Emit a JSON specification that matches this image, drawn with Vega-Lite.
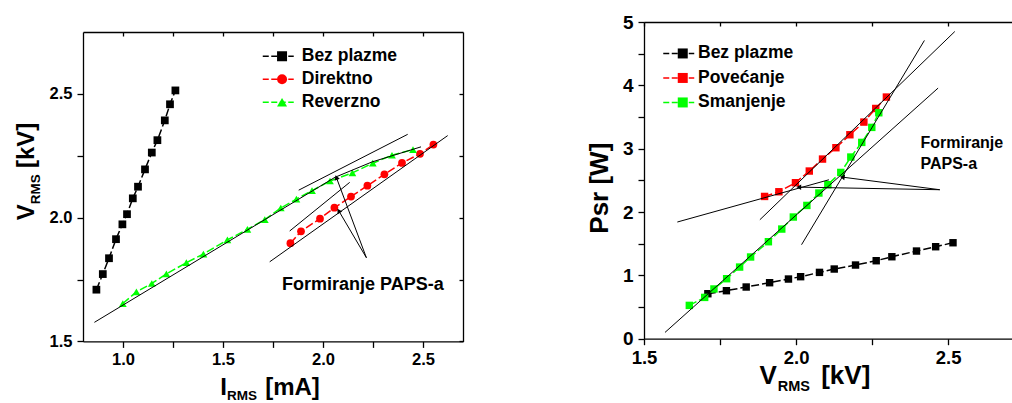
{
  "$schema": "https://vega.github.io/schema/vega-lite/v6.json",
  "background": "white",
  "padding": {"left": 14, "top": 13, "right": 0, "bottom": 0},
  "spacing": 122,
  "config": {
    "view": {"stroke": null},
    "font": "Liberation Sans",
    "axis": {"domainColor": "#000", "domainWidth": 1.3, "tickColor": "#000", "tickWidth": 1.3, "labelColor": "#000", "labelFont": "Liberation Sans", "labelFontWeight": "bold", "titleFont": "Liberation Sans", "titleFontWeight": "bold", "titleColor": "#000", "grid": false, "labelFlush": false, "labelOverlap": false},
    "legend": {"labelFont": "Liberation Sans", "labelFontWeight": "bold", "labelColor": "#000", "padding": 0},
    "title": {"font": "Liberation Sans"}
  },
  "resolve": {"scale": {"stroke": "independent", "fill": "independent", "shape": "independent"}, "legend": {"stroke": "independent", "fill": "independent", "shape": "independent"}},
  "datasets": {
    "ls": [
      {"series": "Bez plazme", "I": 0.867, "V": 1.709}, {"series": "Bez plazme", "I": 0.899, "V": 1.772}, {"series": "Bez plazme", "I": 0.930, "V": 1.836}, {"series": "Bez plazme", "I": 0.965, "V": 1.913}, {"series": "Bez plazme", "I": 0.997, "V": 1.973}, {"series": "Bez plazme", "I": 1.020, "V": 2.014}, {"series": "Bez plazme", "I": 1.049, "V": 2.078}, {"series": "Bez plazme", "I": 1.075, "V": 2.125}, {"series": "Bez plazme", "I": 1.110, "V": 2.195}, {"series": "Bez plazme", "I": 1.144, "V": 2.263}, {"series": "Bez plazme", "I": 1.172, "V": 2.313}, {"series": "Bez plazme", "I": 1.209, "V": 2.393}, {"series": "Bez plazme", "I": 1.235, "V": 2.458}, {"series": "Bez plazme", "I": 1.262, "V": 2.514},
      {"series": "Direktno", "I": 1.837, "V": 1.897}, {"series": "Direktno", "I": 1.890, "V": 1.945}, {"series": "Direktno", "I": 1.985, "V": 1.996}, {"series": "Direktno", "I": 2.057, "V": 2.040}, {"series": "Direktno", "I": 2.140, "V": 2.085}, {"series": "Direktno", "I": 2.222, "V": 2.129}, {"series": "Direktno", "I": 2.307, "V": 2.175}, {"series": "Direktno", "I": 2.395, "V": 2.221}, {"series": "Direktno", "I": 2.485, "V": 2.258}, {"series": "Direktno", "I": 2.552, "V": 2.295},
      {"series": "Reverzno", "I": 0.999, "V": 1.653}, {"series": "Reverzno", "I": 1.067, "V": 1.700}, {"series": "Reverzno", "I": 1.144, "V": 1.734}, {"series": "Reverzno", "I": 1.217, "V": 1.773}, {"series": "Reverzno", "I": 1.317, "V": 1.818}, {"series": "Reverzno", "I": 1.402, "V": 1.853}, {"series": "Reverzno", "I": 1.522, "V": 1.910}, {"series": "Reverzno", "I": 1.622, "V": 1.953}, {"series": "Reverzno", "I": 1.709, "V": 1.992}, {"series": "Reverzno", "I": 1.789, "V": 2.039}, {"series": "Reverzno", "I": 1.867, "V": 2.075}, {"series": "Reverzno", "I": 1.945, "V": 2.109}, {"series": "Reverzno", "I": 2.035, "V": 2.148}, {"series": "Reverzno", "I": 2.147, "V": 2.181}, {"series": "Reverzno", "I": 2.249, "V": 2.220}, {"series": "Reverzno", "I": 2.345, "V": 2.252}, {"series": "Reverzno", "I": 2.450, "V": 2.275}
    ],
    "lf": [
      {"x1": 0.857, "y1": 1.577, "x2": 2.06, "y2": 2.163},
      {"x1": 2.06, "y1": 2.163, "x2": 2.245, "y2": 2.225},
      {"x1": 2.245, "y1": 2.225, "x2": 2.49, "y2": 2.286},
      {"x1": 1.8785, "y1": 2.111, "x2": 2.4235, "y2": 2.3366},
      {"x1": 1.7335, "y1": 1.8215, "x2": 2.6235, "y2": 2.3315},
      {"x1": 1.8335, "y1": 1.946, "x2": 2.1335, "y2": 2.1425}
    ],
    "la": [
      {"id": 1, "x": 2.217, "y": 1.838, "hx": 2.067, "hy": 2.162},
      {"id": 2, "x": 2.217, "y": 1.838, "hx": 2.0785, "hy": 2.028}
    ],
    "lt": [{"text": "Formiranje PAPS-a", "x": 1.795, "y": 1.726}],
    "rs": [
      {"series": "Bez plazme", "V": 1.710, "P": 0.710}, {"series": "Bez plazme", "V": 1.771, "P": 0.758}, {"series": "Bez plazme", "V": 1.836, "P": 0.816}, {"series": "Bez plazme", "V": 1.913, "P": 0.884}, {"series": "Bez plazme", "V": 1.975, "P": 0.942}, {"series": "Bez plazme", "V": 2.015, "P": 0.979}, {"series": "Bez plazme", "V": 2.077, "P": 1.047}, {"series": "Bez plazme", "V": 2.1255, "P": 1.100}, {"series": "Bez plazme", "V": 2.1955, "P": 1.163}, {"series": "Bez plazme", "V": 2.2635, "P": 1.231}, {"series": "Bez plazme", "V": 2.315, "P": 1.294}, {"series": "Bez plazme", "V": 2.396, "P": 1.384}, {"series": "Bez plazme", "V": 2.459, "P": 1.452}, {"series": "Bez plazme", "V": 2.516, "P": 1.515},
      {"series": "Povećanje", "V": 1.8965, "P": 2.246}, {"series": "Povećanje", "V": 1.9435, "P": 2.320}, {"series": "Povećanje", "V": 1.998, "P": 2.463}, {"series": "Povećanje", "V": 2.0435, "P": 2.647}, {"series": "Povećanje", "V": 2.087, "P": 2.836}, {"series": "Povećanje", "V": 2.131, "P": 3.015}, {"series": "Povećanje", "V": 2.177, "P": 3.220}, {"series": "Povećanje", "V": 2.223, "P": 3.420}, {"series": "Povećanje", "V": 2.262, "P": 3.635}, {"series": "Povećanje", "V": 2.297, "P": 3.815},
      {"series": "Smanjenje", "V": 1.649, "P": 0.526}, {"series": "Smanjenje", "V": 1.6995, "P": 0.652}, {"series": "Smanjenje", "V": 1.73, "P": 0.785}, {"series": "Smanjenje", "V": 1.7717, "P": 0.947}, {"series": "Smanjenje", "V": 1.8144, "P": 1.131}, {"series": "Smanjenje", "V": 1.8505, "P": 1.290}, {"series": "Smanjenje", "V": 1.909, "P": 1.531}, {"series": "Smanjenje", "V": 1.953, "P": 1.731}, {"series": "Smanjenje", "V": 1.991, "P": 1.921}, {"series": "Smanjenje", "V": 2.0355, "P": 2.104}, {"series": "Smanjenje", "V": 2.075, "P": 2.300}, {"series": "Smanjenje", "V": 2.1045, "P": 2.431}, {"series": "Smanjenje", "V": 2.147, "P": 2.625}, {"series": "Smanjenje", "V": 2.18, "P": 2.868}, {"series": "Smanjenje", "V": 2.216, "P": 3.099}, {"series": "Smanjenje", "V": 2.249, "P": 3.336}, {"series": "Smanjenje", "V": 2.272, "P": 3.567}
    ],
    "rf": [
      {"x1": 1.6096, "y1": 1.842, "x2": 2.108, "y2": 2.509},
      {"x1": 1.881, "y1": 1.878, "x2": 2.522, "y2": 4.85},
      {"x1": 2.018, "y1": 1.484, "x2": 2.422, "y2": 4.709},
      {"x1": 1.569, "y1": 0.099, "x2": 2.467, "y2": 3.957}
    ],
    "ra": [
      {"id": 1, "x": 2.4725, "y": 2.352, "hx": 2.009, "hy": 2.393},
      {"id": 2, "x": 2.4725, "y": 2.352, "hx": 2.152, "hy": 2.551}
    ],
    "rt": [{"text": "Formiranje", "x": 2.409, "y": 3.089}, {"text": "PAPS-a", "x": 2.409, "y": 2.758}]
  },
  "hconcat": [
    {
      "width": 380,
      "height": 319.4,
      "resolve": {"axis": {"x": "independent", "y": "independent"}},
      "layer": [
        {
          "data": {"name": "ls"},
          "transform": [{"calculate": "datum.series", "as": "grp"}],
          "mark": {"type": "line", "strokeWidth": 1.5, "strokeDash": [8, 3]},
          "encoding": {
            "x": {"field": "I", "type": "quantitative", "scale": {"domain": [0.8, 2.7], "nice": false, "zero": false},
              "axis": {"orient": "bottom", "values": [1, 1.25, 1.5, 1.75, 2, 2.25, 2.5], "format": ".1f", "labelExpr": "abs(datum.value*2-round(datum.value*2))<0.01 ? datum.label : ''", "tickSize": 6, "labelPadding": 4, "labelFontSize": 16.5, "title": "I", "titleFontSize": 24, "titleX": 136.7, "titleY": 53, "titleAlign": "left", "titleBaseline": "alphabetic"}},
            "y": {"field": "V", "type": "quantitative", "scale": {"domain": [1.5, 2.75], "nice": false, "zero": false, "range": [319.4, 10]},
              "axis": {"orient": "left", "values": [1.5, 1.75, 2, 2.25, 2.5], "format": ".1f", "labelExpr": "abs(datum.value*2-round(datum.value*2))<0.01 ? datum.label : ''", "tickSize": 6, "labelPadding": 5, "labelFontSize": 16.5, "title": "V", "titleFontSize": 24, "titleAngle": -90, "titleX": -50, "titleY": 197.7, "titleAlign": "left", "titleBaseline": "alphabetic"}},
            "stroke": {"field": "grp", "type": "nominal", "scale": {"range": ["#000000", "#ff0000", "#00ff00"]},
              "legend": {"orient": "none", "legendX": 186.5, "legendY": 25.5, "title": null, "symbolType": "M-2,0H2", "symbolSize": 240, "symbolStrokeWidth": 1.5, "symbolDash": [6, 2.5], "labelFontSize": 17.5, "rowPadding": 4, "labelOffset": 14.75}}
          }
        },
        {
          "data": {"name": "ls"},
          "mark": {"type": "point", "filled": true, "size": 60, "opacity": 1},
          "encoding": {
            "x": {"field": "I", "type": "quantitative", "axis": null},
            "y": {"field": "V", "type": "quantitative", "axis": null},
            "fill": {"field": "series", "type": "nominal", "scale": {"range": ["#000000", "#ff0000", "#00ff00"]},
              "legend": {"orient": "none", "legendX": 190.3, "legendY": 25.5, "title": null, "labelFontSize": 17.5, "rowPadding": 4, "labelExpr": "' '"}},
            "shape": {"field": "series", "type": "nominal", "scale": {"range": ["square", "circle", "triangle-up"]},
              "legend": {"orient": "none", "legendX": 190.3, "legendY": 25.5, "title": null, "labelFontSize": 17.5, "rowPadding": 4, "labelExpr": "' '"}}
          }
        },
        {
          "data": {"name": "lf"},
          "mark": {"type": "rule", "color": "#000", "strokeWidth": 1},
          "encoding": {
            "x": {"field": "x1", "type": "quantitative", "axis": {"orient": "top", "offset": -10, "values": [1, 1.25, 1.5, 1.75, 2, 2.25, 2.5], "labels": false, "tickSize": -4, "title": null}},
            "y": {"field": "y1", "type": "quantitative", "axis": {"orient": "right", "values": [1.5, 1.75, 2, 2.25, 2.5], "labels": false, "tickSize": -4, "title": null}},
            "x2": {"field": "x2"},
            "y2": {"field": "y2"}
          }
        },
        {
          "data": {"name": "la"},
          "mark": {"type": "rule", "color": "#000", "strokeWidth": 1},
          "encoding": {
            "x": {"field": "x", "type": "quantitative", "axis": {"orient": "bottom", "domain": false, "ticks": false, "labels": false, "title": "RMS", "titleFontSize": 13.5, "titleX": 143.4, "titleY": 58, "titleAlign": "left", "titleBaseline": "alphabetic"}},
            "y": {"field": "y", "type": "quantitative", "axis": {"orient": "left", "domain": false, "ticks": false, "labels": false, "title": "RMS", "titleFontSize": 13.5, "titleAngle": -90, "titleX": -44, "titleY": 181.7, "titleAlign": "left", "titleBaseline": "alphabetic"}},
            "x2": {"field": "hx"},
            "y2": {"field": "hy"}
          }
        },
        {
          "data": {"name": "la"},
          "transform": [{"filter": "datum.id == 1"}],
          "mark": {"type": "point", "shape": "triangle-up", "filled": true, "color": "#000", "size": 30, "opacity": 1, "angle": 339.7},
          "encoding": {
            "x": {"field": "hx", "type": "quantitative", "axis": {"orient": "bottom", "domain": false, "ticks": false, "labels": false, "title": "[mA]", "titleFontSize": 24, "titleX": 181.7, "titleY": 53, "titleAlign": "left", "titleBaseline": "alphabetic"}},
            "y": {"field": "hy", "type": "quantitative", "axis": {"orient": "left", "domain": false, "ticks": false, "labels": false, "title": "[kV]", "titleFontSize": 24, "titleAngle": -90, "titleX": -50, "titleY": 145.5, "titleAlign": "left", "titleBaseline": "alphabetic"}}
          }
        },
        {
          "data": {"name": "la"},
          "transform": [{"filter": "datum.id == 2"}],
          "mark": {"type": "point", "shape": "triangle-up", "filled": true, "color": "#000", "size": 30, "opacity": 1, "angle": 329.8},
          "encoding": {
            "x": {"field": "hx", "type": "quantitative", "axis": null},
            "y": {"field": "hy", "type": "quantitative", "axis": null}
          }
        },
        {
          "data": {"name": "lt"},
          "mark": {"type": "text", "align": "left", "baseline": "middle", "font": "Liberation Sans", "fontWeight": "bold", "fontSize": 18, "color": "#000"},
          "encoding": {
            "x": {"field": "x", "type": "quantitative", "axis": null},
            "y": {"field": "y", "type": "quantitative", "axis": null},
            "text": {"field": "text"}
          }
        }
      ]
    },
    {
      "width": 368,
      "height": 316.7,
      "resolve": {"axis": {"x": "independent", "y": "independent"}},
      "layer": [
        {
          "data": {"name": "rs"},
          "transform": [{"calculate": "datum.series", "as": "grp"}],
          "mark": {"type": "line", "strokeWidth": 1.5, "strokeDash": [8, 3]},
          "encoding": {
            "x": {"field": "V", "type": "quantitative", "scale": {"domain": [1.5, 2.71], "nice": false, "zero": false},
              "axis": {"orient": "bottom", "values": [1.5, 1.75, 2, 2.25, 2.5], "format": ".1f", "labelExpr": "abs(datum.value*2-round(datum.value*2))<0.01 ? datum.label : ''", "tickSize": 6, "labelPadding": 4, "labelFontSize": 18.5, "title": "V", "titleFontSize": 26, "titleX": 115, "titleY": 44.3, "titleAlign": "left", "titleBaseline": "alphabetic"}},
            "y": {"field": "P", "type": "quantitative", "scale": {"domain": [0, 5], "nice": false, "zero": false},
              "axis": {"orient": "left", "values": [0, 0.5, 1, 1.5, 2, 2.5, 3, 3.5, 4, 4.5, 5], "labelExpr": "abs(datum.value-round(datum.value))<0.01 ? format(datum.value, 'd') : ''", "tickSize": 6, "labelPadding": 5, "labelFontSize": 19, "title": "Psr [W]", "titleFontSize": 26, "titleAngle": -90, "titleX": -36.6, "titleY": 165.7, "titleAlign": "center", "titleBaseline": "alphabetic"}},
            "stroke": {"field": "grp", "type": "nominal", "scale": {"range": ["#000000", "#ff0000", "#00ff00"]},
              "legend": {"orient": "none", "legendX": 26, "legendY": 22.7, "title": null, "symbolType": "M-2,0H2", "symbolSize": 240, "symbolStrokeWidth": 1.5, "symbolDash": [6, 2.5], "labelFontSize": 17.5, "rowPadding": 5.5, "labelOffset": 10.5}}
          }
        },
        {
          "data": {"name": "rs"},
          "mark": {"type": "point", "filled": true, "size": 55, "opacity": 1, "shape": "square"},
          "encoding": {
            "x": {"field": "V", "type": "quantitative", "axis": null},
            "y": {"field": "P", "type": "quantitative", "axis": null},
            "fill": {"field": "series", "type": "nominal", "scale": {"range": ["#000000", "#ff0000", "#00ff00"]},
              "legend": {"orient": "none", "legendX": 30, "legendY": 22.7, "title": null, "labelFontSize": 17.5, "rowPadding": 5.5, "labelExpr": "' '", "symbolType": "square"}}
          }
        },
        {
          "data": {"name": "rf"},
          "mark": {"type": "rule", "color": "#000", "strokeWidth": 1},
          "encoding": {
            "x": {"field": "x1", "type": "quantitative", "axis": {"orient": "top", "values": [1.5, 1.75, 2, 2.25, 2.5], "labels": false, "tickSize": -4, "title": null}},
            "y": {"field": "y1", "type": "quantitative", "axis": null},
            "x2": {"field": "x2"},
            "y2": {"field": "y2"}
          }
        },
        {
          "data": {"name": "ra"},
          "mark": {"type": "rule", "color": "#000", "strokeWidth": 1},
          "encoding": {
            "x": {"field": "x", "type": "quantitative", "axis": {"orient": "bottom", "domain": false, "ticks": false, "labels": false, "title": "RMS", "titleFontSize": 14.5, "titleX": 133.3, "titleY": 51.5, "titleAlign": "left", "titleBaseline": "alphabetic"}},
            "y": {"field": "y", "type": "quantitative", "axis": null},
            "x2": {"field": "hx"},
            "y2": {"field": "hy"}
          }
        },
        {
          "data": {"name": "ra"},
          "transform": [{"filter": "datum.id == 1"}],
          "mark": {"type": "point", "shape": "triangle-up", "filled": true, "color": "#000", "size": 30, "opacity": 1, "angle": 271},
          "encoding": {
            "x": {"field": "hx", "type": "quantitative", "axis": {"orient": "bottom", "domain": false, "ticks": false, "labels": false, "title": "[kV]", "titleFontSize": 26, "titleX": 176.7, "titleY": 44.3, "titleAlign": "left", "titleBaseline": "alphabetic"}},
            "y": {"field": "hy", "type": "quantitative", "axis": null}
          }
        },
        {
          "data": {"name": "ra"},
          "transform": [{"filter": "datum.id == 2"}],
          "mark": {"type": "point", "shape": "triangle-up", "filled": true, "color": "#000", "size": 30, "opacity": 1, "angle": 277.7},
          "encoding": {
            "x": {"field": "hx", "type": "quantitative", "axis": null},
            "y": {"field": "hy", "type": "quantitative", "axis": null}
          }
        },
        {
          "data": {"name": "rt"},
          "mark": {"type": "text", "align": "left", "baseline": "middle", "font": "Liberation Sans", "fontWeight": "bold", "fontSize": 16, "color": "#000"},
          "encoding": {
            "x": {"field": "x", "type": "quantitative", "axis": null},
            "y": {"field": "y", "type": "quantitative", "axis": null},
            "text": {"field": "text"}
          }
        }
      ]
    }
  ]
}
